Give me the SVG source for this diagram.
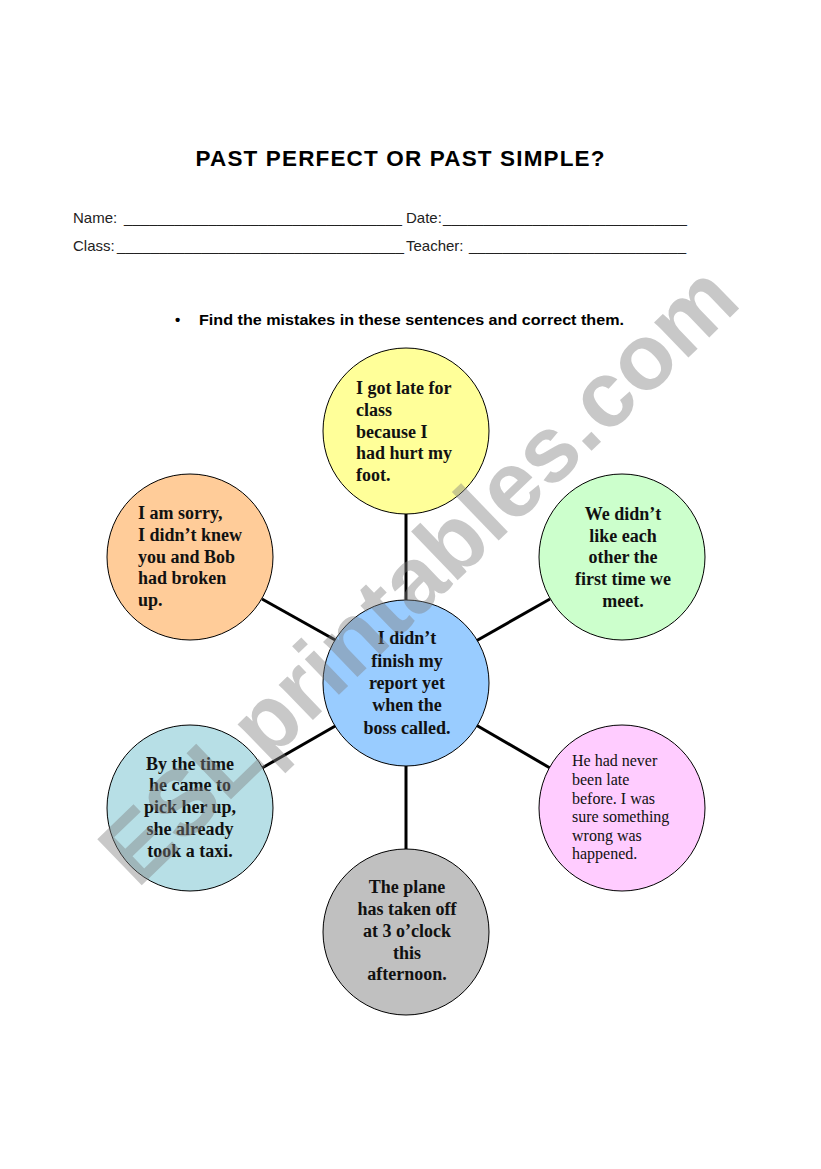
<svg xmlns="http://www.w3.org/2000/svg" width="821" height="1169" viewBox="0 0 821 1169">
<style>
.sans{font-family:"Liberation Sans",Arial,sans-serif;}
.hdr{font-family:"Liberation Sans",Arial,sans-serif;font-size:15px;fill:#222;}
.node circle{stroke:#000;stroke-width:1;}
.t{font-family:"Liberation Serif","Times New Roman",serif;font-size:18px;font-weight:bold;fill:#111;}
.tr{font-family:"Liberation Serif","Times New Roman",serif;font-size:16px;fill:#111;}
.c{text-anchor:middle;}
#connectors line{stroke:#000;stroke-width:3;}
.wm{font-family:"Liberation Sans",Arial,sans-serif;font-weight:bold;font-size:93px;fill:#808080;fill-opacity:0.43;}
</style>
<rect width="821" height="1169" fill="#fff"/>
<text class="sans" x="400" y="166" text-anchor="middle" font-size="22.5" font-weight="bold" textLength="409" lengthAdjust="spacing">PAST PERFECT OR PAST SIMPLE?</text>
<text class="hdr" x="73" y="223">Name:</text>
<text class="hdr" x="124" y="223" textLength="278" lengthAdjust="spacingAndGlyphs">_________________________________</text>
<text class="hdr" x="406" y="223">Date:</text>
<text class="hdr" x="443" y="223" textLength="244" lengthAdjust="spacingAndGlyphs">______________________________</text>
<text class="hdr" x="73" y="251">Class:</text>
<text class="hdr" x="117" y="251" textLength="287" lengthAdjust="spacingAndGlyphs">__________________________________</text>
<text class="hdr" x="406" y="251">Teacher:</text>
<text class="hdr" x="469" y="251" textLength="217" lengthAdjust="spacingAndGlyphs">__________________________</text>
<text class="sans" x="175" y="325" font-size="15" font-weight="bold">•</text>
<text class="sans" x="199" y="325" font-size="15" font-weight="bold" textLength="425" lengthAdjust="spacingAndGlyphs">Find the mistakes in these sentences and correct them.</text>
<g id="connectors">
<line x1="406" y1="514" x2="406" y2="601"/>
<line x1="262" y1="599" x2="337" y2="641"/>
<line x1="550" y1="599" x2="476" y2="641"/>
<line x1="262" y1="768" x2="337" y2="725"/>
<line x1="550" y1="768" x2="476" y2="725"/>
<line x1="406" y1="766" x2="406" y2="850"/>
</g>
<g id="node-top" class="node">
<circle cx="406" cy="431" r="83" fill="#FFFF99"/>
<text class="t" x="356" y="394">I got late for</text>
<text class="t" x="356" y="416">class</text>
<text class="t" x="356" y="438">because I</text>
<text class="t" x="356" y="459">had hurt my</text>
<text class="t" x="356" y="481">foot.</text>
</g>
<g id="node-upper-left" class="node">
<circle cx="190" cy="557" r="83" fill="#FFCC99"/>
<text class="t" x="138" y="519">I am sorry,</text>
<text class="t" x="138" y="541">I didn’t knew</text>
<text class="t" x="138" y="563">you and Bob</text>
<text class="t" x="138" y="584">had broken</text>
<text class="t" x="138" y="606">up.</text>
</g>
<g id="node-upper-right" class="node">
<circle cx="622" cy="557" r="83" fill="#CCFFCC"/>
<text class="t c" x="623" y="520">We didn’t</text>
<text class="t c" x="623" y="542">like each</text>
<text class="t c" x="623" y="563">other the</text>
<text class="t c" x="623" y="585">first time we</text>
<text class="t c" x="623" y="607">meet.</text>
</g>
<g id="node-center" class="node">
<circle cx="406" cy="683" r="83" fill="#99CCFF"/>
<text class="t c" x="407" y="644" fill="#0a0a3a">I didn’t</text>
<text class="t c" x="407" y="667" fill="#0a0a3a">finish my</text>
<text class="t c" x="407" y="689" fill="#0a0a3a">report yet</text>
<text class="t c" x="407" y="711" fill="#0a0a3a">when the</text>
<text class="t c" x="407" y="734" fill="#0a0a3a">boss called.</text>
</g>
<g id="node-lower-left" class="node">
<circle cx="190" cy="808" r="83" fill="#B7DFE6"/>
<text class="t c" x="190" y="770">By the time</text>
<text class="t c" x="190" y="791">he came to</text>
<text class="t c" x="190" y="813">pick her up,</text>
<text class="t c" x="190" y="835">she already</text>
<text class="t c" x="190" y="857">took a taxi.</text>
</g>
<g id="node-lower-right" class="node">
<circle cx="622" cy="808" r="83" fill="#FFCCFF"/>
<text class="tr" x="572" y="766">He had never</text>
<text class="tr" x="572" y="785">been late</text>
<text class="tr" x="572" y="804">before. I was</text>
<text class="tr" x="572" y="822">sure something</text>
<text class="tr" x="572" y="841">wrong was</text>
<text class="tr" x="572" y="859">happened.</text>
</g>
<g id="node-bottom" class="node">
<circle cx="406" cy="932" r="83" fill="#C0C0C0"/>
<text class="t c" x="407" y="893">The plane</text>
<text class="t c" x="407" y="915">has taken off</text>
<text class="t c" x="407" y="937">at 3 o’clock</text>
<text class="t c" x="407" y="959">this</text>
<text class="t c" x="407" y="980">afternoon.</text>
</g>
<text class="wm" transform="translate(418,574) rotate(-44)" x="0" y="32" text-anchor="middle">ESLprintables.com</text>
</svg>
